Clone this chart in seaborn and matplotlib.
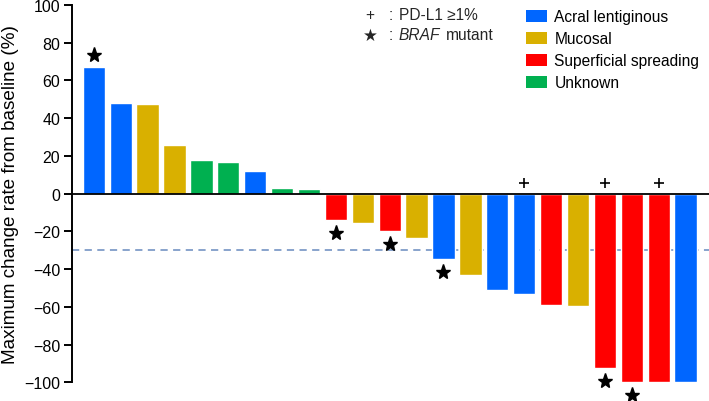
import matplotlib
matplotlib.use("Agg")
import matplotlib.pyplot as plt
import matplotlib.patches as mpatches
import seaborn as sns
import pandas as pd

# ---- data ----
patients = [f"P{i+1}" for i in range(23)]
change = [67.0, 48.1, 47.7, 25.6, 17.9, 16.6, 11.9, 3.2, 2.7,
          -13.9, -15.5, -19.9, -23.6, -34.6, -42.9, -50.9, -53.2,
          -58.8, -59.7, -92.4, -99.6, -99.6, -99.6]
subtype = ["Acral lentiginous", "Acral lentiginous", "Mucosal", "Mucosal",
           "Unknown", "Unknown", "Acral lentiginous", "Unknown", "Unknown",
           "Superficial spreading", "Mucosal", "Superficial spreading", "Mucosal",
           "Acral lentiginous", "Mucosal", "Acral lentiginous", "Acral lentiginous",
           "Superficial spreading", "Mucosal", "Superficial spreading",
           "Superficial spreading", "Superficial spreading", "Acral lentiginous"]
braf_mutant = [0, 9, 11, 13, 19, 20]      # bar indices with BRAF mutation
pdl1_positive = [16, 19, 21]              # bar indices with PD-L1 >= 1%
categories = ["Acral lentiginous", "Mucosal", "Superficial spreading", "Unknown"]
colors = ["#0066FF", "#D9B000", "#FF0000", "#00B050"]
threshold = -30
yticks = [-100, -80, -60, -40, -20, 0, 20, 40, 60, 80, 100]

df = pd.DataFrame({"patient": patients, "change": change, "subtype": subtype})
palette = dict(zip(categories, colors))

sns.set_theme(style="ticks")
plt.rcParams["font.family"] = ["Liberation Sans", "DejaVu Sans"]
plt.rcParams["ytick.left"] = True
plt.rcParams["ytick.major.size"] = 6
plt.rcParams["ytick.major.width"] = 1.4
plt.rcParams["ytick.color"] = "black"

fig = plt.figure(figsize=(7.09, 4.02), dpi=100)
ax = fig.add_axes([72/709, 1 - 383.4/402, (709-72)/709, (383.4-6)/402])

sns.barplot(data=df, x="patient", y="change", hue="subtype", order=patients,
            hue_order=categories, palette=palette, dodge=False, width=0.83,
            saturation=1, legend=False, ax=ax)

ax.set_xlim(-0.81, 22.87)
ax.set_ylim(-100, 100)
ax.set_yticks(yticks)
ax.yaxis.set_ticks_position("left")
ax.tick_params(axis="x", bottom=False, labelbottom=False)
ax.tick_params(axis="y", which="major", labelsize=11.5, length=6, width=1.4,
               direction="out", left=True, color="black", labelcolor="black", pad=2.5)
ax.set_xlabel("")
ax.set_ylabel("Maximum change rate from baseline (%)", fontsize=13.6, labelpad=4,
              color="black")
sns.despine(ax=ax, top=True, right=True, bottom=True, left=False)
ax.spines["left"].set_color("black")
ax.spines["left"].set_linewidth(1.4)

ax.axhline(0, color="black", lw=1.3, zorder=3)
ax.axhline(threshold, color="#7F9CC8", lw=1.3, ls=(0, (4, 3)), zorder=0)

# markers
for i in braf_mutant:
    v = change[i]
    y = v + 6.3 if v > 0 else v - 7.0
    ax.plot(i, y, marker="*", color="black", markersize=11, clip_on=False, zorder=5)
for i in pdl1_positive:
    ax.plot(i, 5.7, marker="+", color="black", markersize=7, mew=1.2, clip_on=False, zorder=5)

# symbol legend
fig.text(370/709, 1 - 15.5/402, "+", fontsize=11.2, ha="center", va="center")
fig.text(370/709, 1 - 35.5/402, "★", fontsize=12, ha="center", va="center",
         family=["DejaVu Sans"])
fig.text(389/709, 1 - 15.5/402, ":", fontsize=11.2, ha="left", va="center")
fig.text(399/709, 1 - 15.5/402, "PD-L1 ≥1%", fontsize=11.2, ha="left", va="center")
fig.text(389/709, 1 - 35.5/402, ":", fontsize=11.2, ha="left", va="center")
fig.text(399/709, 1 - 35.5/402, "BRAF", fontsize=11.2, ha="left", va="center", style="italic")
fig.text(445.5/709, 1 - 35.5/402, "mutant", fontsize=11.2, ha="left", va="center")

handles = [mpatches.Patch(facecolor=c, edgecolor="none", label=l) for l, c in zip(categories, colors)]
leg = fig.legend(handles=handles, loc="upper left", bbox_to_anchor=(523/709, 1 - 7/402),
                 frameon=False, fontsize=11.2, handlelength=1.32, handleheight=0.85,
                 handletextpad=0.5, labelspacing=0.45, borderaxespad=0, borderpad=0.2)
for t in leg.get_texts():
    t.set_color("black")

fig.savefig("out.png", dpi=100)
